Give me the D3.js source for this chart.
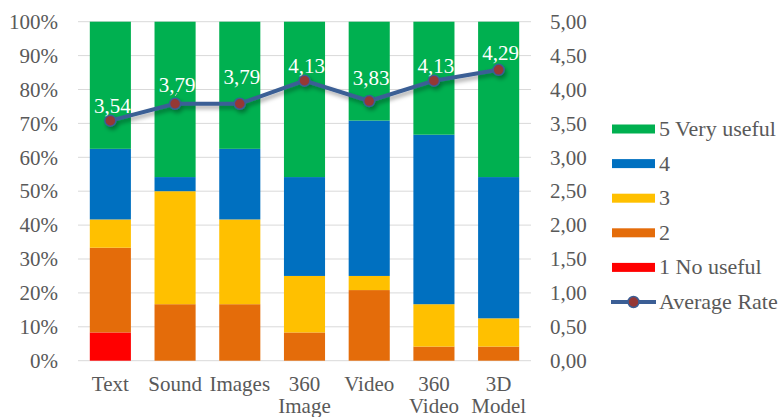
<!DOCTYPE html>
<html>
<head>
<meta charset="utf-8">
<script src="https://cdn.jsdelivr.net/npm/d3@7"></script>
<style>
  body { margin: 0; background: #fff; }
  svg, svg text { font-family: "Liberation Serif", "Times New Roman", Times, "DejaVu Serif", serif !important; }
</style>
</head>
<body>
<div id="chart"></div>
<script>
// Categories (split on space for two-line labels)
const categories = ["Text", "Sound", "Images", "360 Image", "Video", "360 Video", "3D Model"];

// Answer counts per rating (24 respondents per category)
const rating1 = [2, 0, 0, 0, 0, 0, 0];
const rating2 = [6, 4, 4, 2, 5, 1, 1];
const rating3 = [2, 8, 6, 4, 1, 3, 2];
const rating4 = [5, 1, 5, 7, 11, 12, 10];
const rating5 = [9, 11, 9, 11, 7, 8, 11];

const averageRate = [3.54, 3.79, 3.79, 4.13, 3.83, 4.13, 4.29];

const seriesNames = ["1 No useful", "2", "3", "4", "5 Very useful"];
const leftTicks = [0, 0.1, 0.2, 0.3, 0.4, 0.5, 0.6, 0.7, 0.8, 0.9, 1];
const rightTicks = [0, 0.5, 1, 1.5, 2, 2.5, 3, 3.5, 4, 4.5, 5];

// layout bits for the data labels (px above point), Excel placed some higher with leader lines
const labelLift = [8, 12, 20, 8, 16, 8, 10];
const leaderLine = [false, false, true, false, true, false, false];

const colors = ["#FF0000", "#E46C0A", "#FFC000", "#0070C0", "#00B050"];
const lineColor = "#3B5E95";
const markerColor = "#953735";
const textColor = "#595959";
const fontSize = 21;

const width = 781, height = 417;
const plot = { left: 78, right: 531, top: 21.7, bottom: 360.7 };

const svg = d3.select("#chart").append("svg")
  .attr("width", width)
  .attr("height", height);

const defs = svg.append("defs");
const shadow = defs.append("filter").attr("id", "shadow")
  .attr("x", "-10%").attr("y", "-30%").attr("width", "130%").attr("height", "180%");
shadow.append("feDropShadow")
  .attr("dx", 2).attr("dy", 3).attr("stdDeviation", 2)
  .attr("flood-color", "#000").attr("flood-opacity", 0.35);

// build the stacked table
const counts = [rating1, rating2, rating3, rating4, rating5];
const table = categories.map((c, i) => {
  const total = d3.sum(counts, s => s[i]);
  const row = { cat: c };
  seriesNames.forEach((n, k) => row[n] = counts[k][i] / total);
  return row;
});
const stack = d3.stack().keys(seriesNames)(table);

const x = d3.scaleBand()
  .domain(categories)
  .range([plot.left, plot.right])
  .paddingInner(0.365)
  .paddingOuter(0.1825);

const y = d3.scaleLinear().domain([0, 1]).range([plot.bottom, plot.top]);
const y2 = d3.scaleLinear().domain([0, 5]).range([plot.bottom, plot.top]);

// gridlines
svg.append("g")
  .selectAll("line")
  .data(leftTicks)
  .join("line")
    .attr("x1", plot.left)
    .attr("x2", plot.right)
    .attr("y1", d => y(d))
    .attr("y2", d => y(d))
    .attr("stroke", "#D9D9D9")
    .attr("stroke-width", 1);

// left axis
const leftAxis = svg.append("g")
  .attr("transform", `translate(${plot.left},0)`)
  .call(d3.axisLeft(y).tickValues(leftTicks).tickFormat(d3.format(".0%")).tickSize(0).tickPadding(20));
leftAxis.select(".domain").remove();
leftAxis.attr("font-family", null).attr("font-size", fontSize);
leftAxis.selectAll("text").attr("fill", textColor);

// right axis
const commaFmt = d => d3.format(".2f")(d).replace(".", ",");
const rightAxis = svg.append("g")
  .attr("transform", `translate(${plot.right},0)`)
  .call(d3.axisRight(y2).tickValues(rightTicks).tickFormat(commaFmt).tickSize(0).tickPadding(19));
rightAxis.select(".domain").remove();
rightAxis.attr("font-family", null).attr("font-size", fontSize);
rightAxis.selectAll("text").attr("fill", textColor);

// bars
svg.append("g")
  .selectAll("g")
  .data(stack)
  .join("g")
    .attr("fill", (d, i) => colors[i])
  .selectAll("rect")
  .data(d => d)
  .join("rect")
    .attr("x", d => x(d.data.cat))
    .attr("y", d => y(d[1]))
    .attr("width", x.bandwidth())
    .attr("height", d => y(d[0]) - y(d[1]));

// x axis labels
const xLabels = svg.append("g")
  .attr("font-size", fontSize)
  .attr("fill", textColor)
  .attr("text-anchor", "middle");
categories.forEach(c => {
  const t = xLabels.append("text")
    .attr("x", x(c) + x.bandwidth() / 2)
    .attr("y", 391);
  c.split(" ").forEach((w, j) => {
    t.append("tspan")
      .attr("x", x(c) + x.bandwidth() / 2)
      .attr("dy", j === 0 ? 0 : 22)
      .text(w);
  });
});

// average line
const cx = (d, i) => x(categories[i]) + x.bandwidth() / 2;
const line = d3.line()
  .x((d, i) => cx(d, i))
  .y(d => y2(d));

const lineG = svg.append("g").attr("filter", "url(#shadow)");
lineG.append("path")
  .datum(averageRate)
  .attr("d", line)
  .attr("fill", "none")
  .attr("stroke", lineColor)
  .attr("stroke-width", 4)
  .attr("stroke-linejoin", "round");
lineG.selectAll("circle")
  .data(averageRate)
  .join("circle")
    .attr("cx", cx)
    .attr("cy", d => y2(d))
    .attr("r", 5.5)
    .attr("fill", markerColor)
    .attr("stroke", lineColor)
    .attr("stroke-width", 1.5);

// leader lines
svg.append("g")
  .selectAll("line")
  .data(averageRate)
  .join("line")
    .filter((d, i) => leaderLine[i])
    .attr("x1", (d, i) => cx(d, i) + 2)
    .attr("y1", (d, i) => y2(d) - labelLift[i] + 4)
    .attr("x2", (d, i) => cx(d, i))
    .attr("y2", d => y2(d) - 5)
    .attr("stroke", "#BFBFBF")
    .attr("stroke-width", 1);

// data labels
svg.append("g")
  .selectAll("text")
  .data(averageRate)
  .join("text")
    .attr("x", (d, i) => cx(d, i) + 2)
    .attr("y", (d, i) => y2(d) - labelLift[i])
    .attr("text-anchor", "middle")
    .attr("font-size", fontSize)
    .attr("fill", "#fff")
    .text(d => commaFmt(d));

// legend
const legendItems = seriesNames.map((n, i) => ({ name: n, color: colors[i] })).reverse();
const legend = svg.append("g").attr("font-size", 22).attr("fill", textColor);
legendItems.forEach((d, i) => {
  const ly = 129 + i * 34.6;
  legend.append("rect")
    .attr("x", 612).attr("y", ly - 4.5)
    .attr("width", 43).attr("height", 9)
    .attr("fill", d.color);
  legend.append("text")
    .attr("x", 659).attr("y", ly + 7)
    .text(d.name);
});
{
  const ly = 129 + 5 * 34.6;
  legend.append("line")
    .attr("x1", 611).attr("x2", 656)
    .attr("y1", ly).attr("y2", ly)
    .attr("stroke", lineColor).attr("stroke-width", 4);
  legend.append("circle")
    .attr("cx", 633.5).attr("cy", ly).attr("r", 5.5)
    .attr("fill", markerColor).attr("stroke", lineColor).attr("stroke-width", 1.5);
  legend.append("text")
    .attr("x", 659).attr("y", ly + 7)
    .text("Average Rate");
}
</script>
</body>
</html>
